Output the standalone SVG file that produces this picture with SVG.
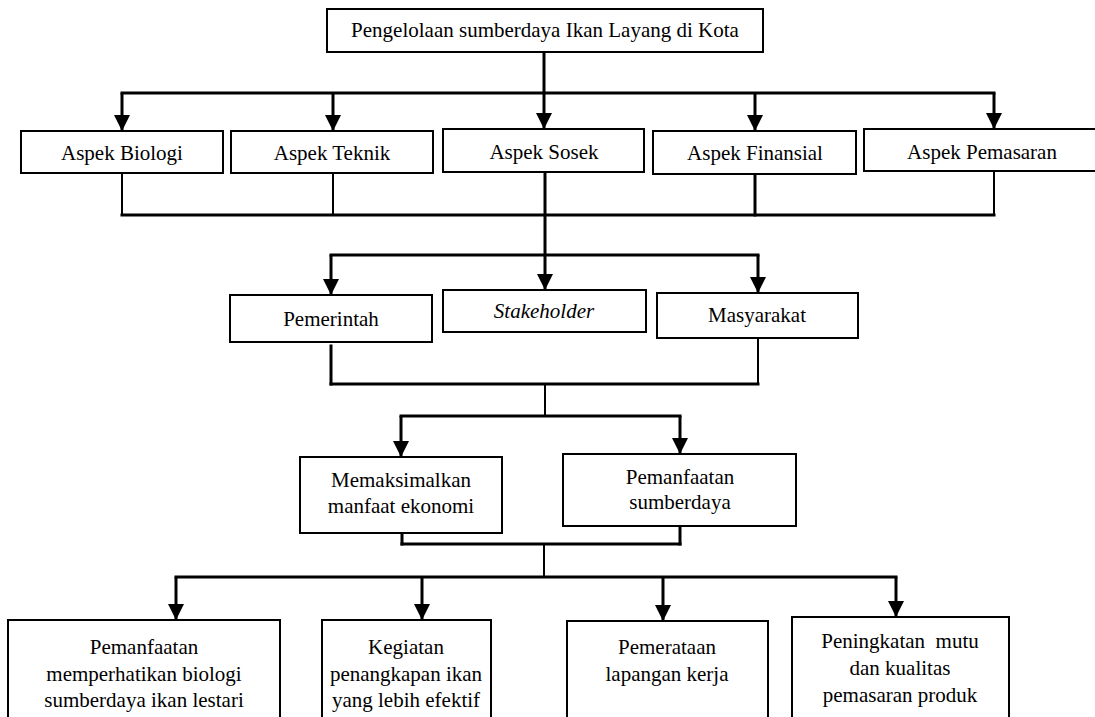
<svg xmlns="http://www.w3.org/2000/svg" width="1095" height="717" viewBox="0 0 1095 717">
<defs>
<marker id="arr" markerUnits="userSpaceOnUse" markerWidth="16" markerHeight="16" refX="16" refY="8" orient="auto">
<path d="M0,0 L16,8 L0,16 z" fill="#000"/>
</marker>
<style>
.box{fill:#fff;stroke:#000;stroke-width:2}
.t{font-family:"Liberation Serif","Times New Roman",serif;font-size:21px;fill:#000;text-anchor:middle}
.it{font-style:italic}
.ln{fill:none;stroke:#000;stroke-width:3;stroke-linecap:square}
.th{fill:none;stroke:#000;stroke-width:2}
.ar{fill:none;stroke:#000;stroke-width:3;marker-end:url(#arr)}
</style>
</defs>
<rect width="1095" height="717" fill="#fff"/>

<g id="connectors">
<!-- top -->
<line class="ar" x1="544" y1="52" x2="544" y2="129"/>
<line class="ln" x1="122" y1="93" x2="994" y2="93"/>
<line class="ar" x1="122" y1="93" x2="122" y2="131"/>
<line class="ar" x1="333" y1="93" x2="333" y2="131"/>
<line class="ar" x1="755" y1="93" x2="755" y2="131"/>
<line class="ar" x1="994" y1="93" x2="994" y2="129"/>
<!-- aspects collect -->
<line class="th" x1="122" y1="173" x2="122" y2="215"/>
<line class="th" x1="333" y1="173" x2="333" y2="215"/>
<line class="ln" x1="755" y1="174" x2="755" y2="215"/>
<line class="th" x1="994" y1="171" x2="994" y2="215"/>
<line class="ln" x1="122" y1="215" x2="994" y2="215"/>
<line class="ar" x1="545" y1="172" x2="545" y2="290"/>
<!-- stakeholders -->
<line class="ln" x1="331" y1="255" x2="758" y2="255"/>
<line class="ar" x1="331" y1="255" x2="331" y2="295"/>
<line class="ar" x1="758" y1="255" x2="758" y2="293"/>
<line class="ln" x1="331" y1="346" x2="331" y2="384"/>
<line class="th" x1="758" y1="338" x2="758" y2="384"/>
<line class="ln" x1="331" y1="384" x2="758" y2="384"/>
<line class="th" x1="545" y1="384" x2="545" y2="416"/>
<!-- goals -->
<line class="ln" x1="401" y1="416" x2="680" y2="416"/>
<line class="ar" x1="401" y1="416" x2="401" y2="457"/>
<line class="ar" x1="680" y1="416" x2="680" y2="454"/>
<line class="ln" x1="402" y1="533" x2="402" y2="544"/>
<line class="ln" x1="680" y1="526" x2="680" y2="544"/>
<line class="ln" x1="402" y1="544" x2="680" y2="544"/>
<line class="th" x1="544" y1="544" x2="544" y2="577"/>
<!-- outcomes -->
<line class="ln" x1="176" y1="577" x2="896" y2="577"/>
<line class="ar" x1="176" y1="577" x2="176" y2="620"/>
<line class="ar" x1="422" y1="577" x2="422" y2="620"/>
<line class="ar" x1="663" y1="577" x2="663" y2="621"/>
<line class="ar" x1="896" y1="577" x2="896" y2="617"/>
</g>

<g id="n-top">
<rect class="box" x="327" y="9" width="436" height="43"/>
<text class="t" x="545" y="37">Pengelolaan sumberdaya Ikan Layang di Kota</text>
</g>

<g id="n-biologi">
<rect class="box" x="21" y="131" width="202" height="42"/>
<text class="t" x="122" y="160">Aspek Biologi</text>
</g>
<g id="n-teknik">
<rect class="box" x="231" y="131" width="202" height="42"/>
<text class="t" x="332" y="160">Aspek Teknik</text>
</g>
<g id="n-sosek">
<rect class="box" x="443" y="129" width="201" height="43"/>
<text class="t" x="544" y="159">Aspek Sosek</text>
</g>
<g id="n-finansial">
<rect class="box" x="653" y="131" width="203" height="43"/>
<text class="t" x="755" y="160">Aspek Finansial</text>
</g>
<g id="n-pemasaran">
<rect class="box" x="864" y="129" width="240" height="42"/>
<text class="t" x="982" y="159">Aspek Pemasaran</text>
</g>

<g id="n-pemerintah">
<rect class="box" x="230" y="295" width="202" height="47"/>
<text class="t" x="331" y="326">Pemerintah</text>
</g>
<g id="n-stakeholder">
<rect class="box" x="443" y="290" width="203" height="42"/>
<text class="t it" x="544" y="318">Stakeholder</text>
</g>
<g id="n-masyarakat">
<rect class="box" x="657" y="293" width="201" height="45"/>
<text class="t" x="757" y="322">Masyarakat</text>
</g>

<g id="n-memaksimalkan">
<rect class="box" x="300" y="457" width="202" height="76"/>
<text class="t" x="401" y="487">Memaksimalkan</text>
<text class="t" x="401" y="513">manfaat ekonomi</text>
</g>
<g id="n-pemanfaatan">
<rect class="box" x="563" y="454" width="233" height="72"/>
<text class="t" x="680" y="484">Pemanfaatan</text>
<text class="t" x="680" y="509">sumberdaya</text>
</g>

<g id="n-biologi-lestari">
<rect class="box" x="8" y="620" width="272" height="120"/>
<text class="t" x="144" y="654">Pemanfaatan</text>
<text class="t" x="144" y="681">memperhatikan biologi</text>
<text class="t" x="144" y="707">sumberdaya ikan lestari</text>
</g>
<g id="n-kegiatan">
<rect class="box" x="322" y="620" width="169" height="120"/>
<text class="t" x="406" y="654">Kegiatan</text>
<text class="t" x="406" y="681">penangkapan ikan</text>
<text class="t" x="406" y="707">yang lebih efektif</text>
</g>
<g id="n-pemerataan">
<rect class="box" x="567" y="621" width="201" height="120"/>
<text class="t" x="667" y="654">Pemerataan</text>
<text class="t" x="667" y="681">lapangan kerja</text>
</g>
<g id="n-peningkatan">
<rect class="box" x="792" y="617" width="217" height="120"/>
<text class="t" x="900" y="648" xml:space="preserve">Peningkatan  mutu</text>
<text class="t" x="900" y="675">dan kualitas</text>
<text class="t" x="900" y="702">pemasaran produk</text>
</g>
</svg>
